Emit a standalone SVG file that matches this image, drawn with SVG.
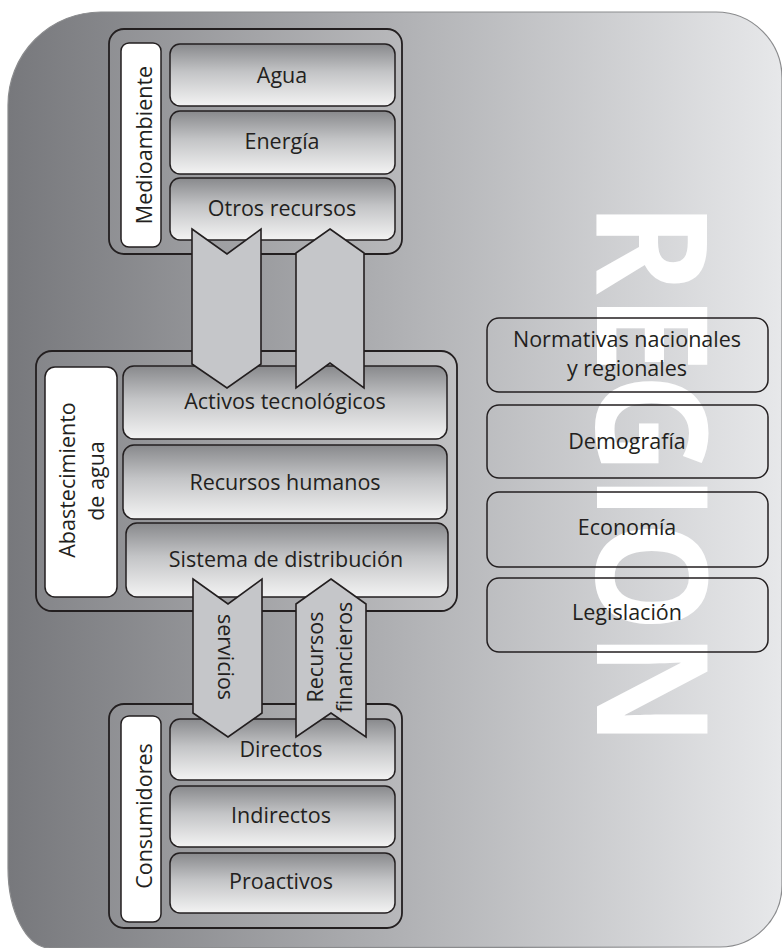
<svg xmlns="http://www.w3.org/2000/svg" width="782" height="948" viewBox="0 0 782 948">
  <defs>
    <linearGradient id="bgGrad" gradientUnits="userSpaceOnUse" x1="0" y1="0" x2="782" y2="0">
      <stop offset="0" stop-color="#76777b"/>
      <stop offset="1" stop-color="#e7e8ea"/>
    </linearGradient>
    <linearGradient id="panelGrad" gradientUnits="userSpaceOnUse" x1="0" y1="0" x2="782" y2="0">
      <stop offset="0" stop-color="#808185"/>
      <stop offset="1" stop-color="#ededee"/>
    </linearGradient>
    <linearGradient id="itemGrad" x1="0" y1="0" x2="0" y2="1">
      <stop offset="0" stop-color="#88898c"/>
      <stop offset="0.45" stop-color="#c3c4c6"/>
      <stop offset="1" stop-color="#f3f3f3"/>
    </linearGradient>
    <style>
      .panel { fill: url(#panelGrad); stroke: #231f20; stroke-width: 1.8; }
      .item { fill: url(#itemGrad); stroke: #231f20; stroke-width: 1.5; }
      .label { fill: #ffffff; stroke: #231f20; stroke-width: 1.5; }
      .factor { fill: none; stroke: #231f20; stroke-width: 1.5; }
      .arrow { fill: #c5c6c9; stroke: #231f20; stroke-width: 1.6; stroke-linejoin: miter; }
      text { font-family: "Open Sans", "Liberation Sans", sans-serif; font-size: 21.5px; fill: #231f20; }
      .c { text-anchor: middle; }
      .big { font-weight: 700; font-size: 155px; fill: #ffffff; }
    </style>
  </defs>

  <!-- background region -->
  <path id="background" d="M 8,105 A 93 93 0 0 1 101,12 L 716,12 A 66 66 0 0 1 782,78 L 782,885 A 62 62 0 0 1 720,947 L 50,948 A 42 80 0 0 1 8,868 Z" fill="url(#bgGrad)" stroke="#8a8b8d" stroke-width="1.2"/>

  <!-- large vertical title -->
  <text class="big" transform="translate(597,202) rotate(90)" x="0" y="0" textLength="544" lengthAdjust="spacingAndGlyphs">REGION</text>

  <!-- regional factors -->
  <g id="normativas">
    <rect class="factor" x="487" y="318" width="281" height="74" rx="12"/>
    <text class="c" x="627" y="347">Normativas nacionales</text>
    <text class="c" x="627" y="376">y regionales</text>
  </g>
  <g id="demografia">
    <rect class="factor" x="487" y="405" width="281" height="73" rx="12"/>
    <text class="c" x="627" y="449">Demografía</text>
  </g>
  <g id="economia">
    <rect class="factor" x="487" y="492" width="281" height="75" rx="12"/>
    <text class="c" x="627" y="535">Economía</text>
  </g>
  <g id="legislacion">
    <rect class="factor" x="487" y="578" width="281" height="74" rx="12"/>
    <text class="c" x="627" y="620">Legislación</text>
  </g>

  <!-- Medioambiente -->
  <g id="medioambiente">
    <rect class="panel" x="109" y="29" width="293" height="225" rx="15"/>
    <rect class="label" x="121" y="43" width="40" height="204" rx="8"/>
    <text class="c" transform="translate(152,145) rotate(-90)">Medioambiente</text>
    <rect class="item" x="170" y="44" width="225" height="62" rx="10"/>
    <text class="c" x="282" y="83">Agua</text>
    <rect class="item" x="170" y="111" width="225" height="63" rx="10"/>
    <text class="c" x="282" y="149">Energía</text>
    <rect class="item" x="170" y="178" width="225" height="62" rx="10"/>
    <text class="c" x="282" y="216">Otros recursos</text>
  </g>

  <!-- Abastecimiento de agua -->
  <g id="abastecimiento">
    <rect class="panel" x="36" y="351" width="421" height="260" rx="16"/>
    <rect class="label" x="45" y="367" width="72" height="230" rx="10"/>
    <text class="c" transform="translate(75,480) rotate(-90)">Abastecimiento</text>
    <text class="c" transform="translate(104,481) rotate(-90)">de agua</text>
    <rect class="item" x="123" y="366" width="324" height="73" rx="11"/>
    <text class="c" x="285" y="409">Activos tecnológicos</text>
    <rect class="item" x="123" y="445" width="324" height="74" rx="11"/>
    <text class="c" x="285" y="490">Recursos humanos</text>
    <rect class="item" x="126" y="523" width="322" height="74" rx="11"/>
    <text class="c" x="286" y="567">Sistema de distribución</text>
  </g>

  <!-- Consumidores -->
  <g id="consumidores">
    <rect class="panel" x="109" y="704" width="293" height="224" rx="15"/>
    <rect class="label" x="121" y="716" width="40" height="206" rx="8"/>
    <text class="c" transform="translate(152,816) rotate(-90)">Consumidores</text>
    <rect class="item" x="170" y="719" width="225" height="61" rx="10"/>
    <text class="c" x="281" y="757">Directos</text>
    <rect class="item" x="170" y="786" width="225" height="61" rx="10"/>
    <text class="c" x="281" y="823">Indirectos</text>
    <rect class="item" x="170" y="853" width="225" height="60" rx="10"/>
    <text class="c" x="281" y="889">Proactivos</text>
  </g>

  <!-- flows between blocks -->
  <g id="connectors">
    <path class="arrow" d="M 192,229 L 227,254 L 261,229 L 261,364 L 227,388 L 192,364 Z"/>
    <path class="arrow" d="M 330,229 L 364,253 L 364,388 L 330,363 L 296,388 L 296,253 Z"/>
    <path class="arrow" d="M 193,579 L 228,604 L 262,579 L 262,713 L 228,737 L 193,713 Z"/>
    <text class="c" transform="translate(218,657) rotate(90)">servicios</text>
    <path class="arrow" d="M 331,579 L 366,604 L 366,737 L 331,713 L 296,737 L 296,604 Z"/>
    <text class="c" transform="translate(323,657) rotate(-90)">Recursos</text>
    <text class="c" transform="translate(352,657) rotate(-90)">financieros</text>
  </g>
</svg>
